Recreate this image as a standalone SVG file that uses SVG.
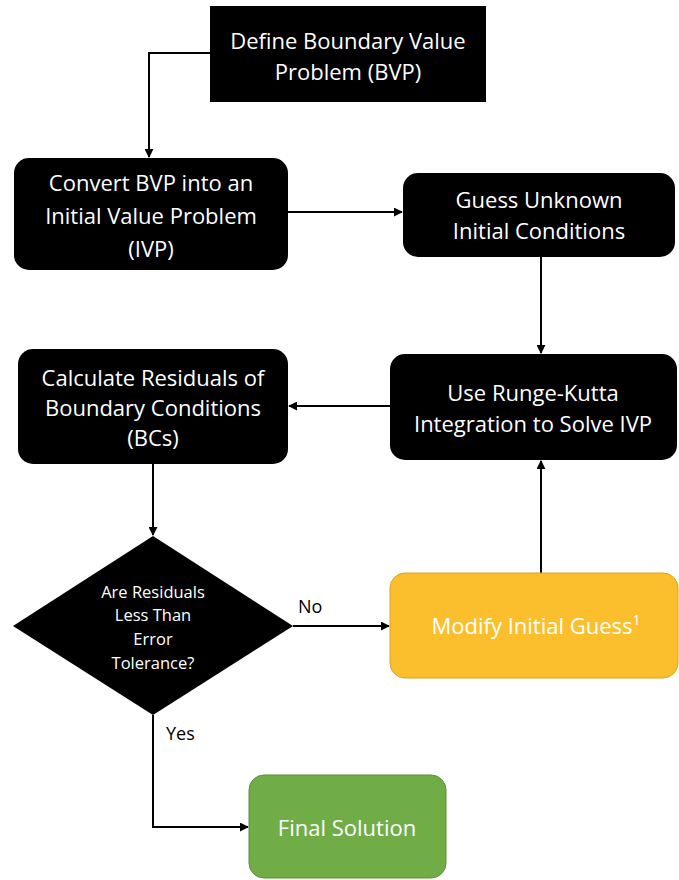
<svg xmlns="http://www.w3.org/2000/svg" width="679" height="880" viewBox="0 0 679 880">
  <style>
    .box { fill: #000000; }
    .t { font-family: "Open Sans", "Noto Sans", "Liberation Sans", sans-serif; fill: #ffffff; text-anchor: middle; }
    .lg { font-size: 22px; }
    .sm { font-size: 16.5px; }
    .lbl { font-family: "Open Sans", "Noto Sans", "Liberation Sans", sans-serif; font-size: 18px; fill: #000000; }
    .edge { fill: none; stroke: #000000; stroke-width: 2; }
  </style>
  <defs>
    <marker id="arrow" viewBox="0 0 10 10" refX="9" refY="5" markerWidth="4.5" markerHeight="4.5" orient="auto" markerUnits="strokeWidth">
      <path d="M0,0 L10,5 L0,10 z" fill="#000000"/>
    </marker>
  </defs>

  <!-- connectors -->
  <g id="connectors">
    <path class="edge" d="M210,53 H149 V157" marker-end="url(#arrow)"/>
    <path class="edge" d="M288,212 H402" marker-end="url(#arrow)"/>
    <path class="edge" d="M541,257 V353" marker-end="url(#arrow)"/>
    <path class="edge" d="M390,406 H289" marker-end="url(#arrow)"/>
    <path class="edge" d="M153,464 V535" marker-end="url(#arrow)"/>
    <path class="edge" d="M293,626 H389" marker-end="url(#arrow)"/>
    <path class="edge" d="M541,573 V461" marker-end="url(#arrow)"/>
    <path class="edge" d="M153,715 V827 H248" marker-end="url(#arrow)"/>
    <text class="lbl" x="298" y="613">No</text>
    <text class="lbl" x="166" y="740">Yes</text>
  </g>

  <g id="define-bvp">
    <rect class="box" x="210" y="6" width="276" height="96"/>
    <text class="t lg" x="348" y="49">Define Boundary Value</text>
    <text class="t lg" x="348" y="80">Problem (BVP)</text>
  </g>

  <g id="convert-ivp">
    <rect class="box" x="14" y="158" width="274" height="112" rx="15"/>
    <text class="t lg" x="151" y="191">Convert BVP into an</text>
    <text class="t lg" x="151" y="224">Initial Value Problem</text>
    <text class="t lg" x="151" y="257">(IVP)</text>
  </g>

  <g id="guess-conditions">
    <rect class="box" x="403" y="173" width="272" height="84" rx="15"/>
    <text class="t lg" x="539" y="208">Guess Unknown</text>
    <text class="t lg" x="539" y="239">Initial Conditions</text>
  </g>

  <g id="runge-kutta">
    <rect class="box" x="390" y="354" width="287" height="106" rx="15"/>
    <text class="t lg" x="533" y="401">Use Runge-Kutta</text>
    <text class="t lg" x="533" y="432">Integration to Solve IVP</text>
  </g>

  <g id="residuals">
    <rect class="box" x="18" y="349" width="270" height="115" rx="15"/>
    <text class="t lg" x="153" y="386">Calculate Residuals of</text>
    <text class="t lg" x="153" y="416">Boundary Conditions</text>
    <text class="t lg" x="153" y="446">(BCs)</text>
  </g>

  <g id="tolerance-check">
    <polygon class="box" points="153,536 293,626 153,715 13,626"/>
    <text class="t sm" x="153" y="598">Are Residuals</text>
    <text class="t sm" x="153" y="621">Less Than</text>
    <text class="t sm" x="153" y="645">Error</text>
    <text class="t sm" x="153" y="669">Tolerance?</text>
  </g>

  <g id="modify-guess">
    <rect x="390" y="573" width="288" height="105" rx="15" fill="#FBBF2D" stroke="#D9A21E" stroke-width="1"/>
    <text class="t lg" x="536" y="634">Modify Initial Guess<tspan font-size="14" dy="-9">1</tspan></text>
  </g>

  <g id="final-solution">
    <rect x="249" y="775" width="197" height="103" rx="15" fill="#70AD47" stroke="#5B8F37" stroke-width="1"/>
    <text class="t lg" x="347" y="836">Final Solution</text>
  </g>
</svg>
